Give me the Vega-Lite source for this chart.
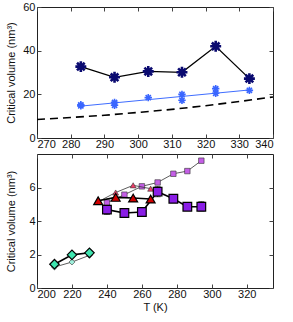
{
  "$schema": "https://vega.github.io/schema/vega-lite/v6.json",
  "padding": {"left": 5, "top": 0, "right": 10, "bottom": 0},
  "spacing": 3,
  "config": {
    "font": "Liberation Sans",
    "view": {"stroke": "#222", "strokeWidth": 1},
    "axis": {
      "grid": false, "domain": false, "tickColor": "#444", "tickSize": -4,
      "labelFontSize": 11, "labelColor": "#111", "titleFontSize": 11,
      "titleFontWeight": "normal", "titleColor": "#111", "labelPadding": 6
    }
  },
  "vconcat": [
    {
      "width": 236, "height": 131,
      "resolve": {"axis": {"x": "independent", "y": "independent"}},
      "layer": [
        {
          "data": {"values": [
            {"T": 270, "v": 8.5}, {"T": 280, "v": 9.4}, {"T": 290, "v": 10.4},
            {"T": 300, "v": 11.7}, {"T": 310, "v": 13.1}, {"T": 320, "v": 14.8},
            {"T": 330, "v": 16.7}, {"T": 340, "v": 18.8}
          ]},
          "mark": {"type": "line", "color": "black", "strokeDash": [8, 5], "strokeWidth": 1.6},
          "encoding": {
            "x": {"field": "T", "type": "quantitative", "scale": {"domain": [270, 340], "nice": false},
                  "axis": {"orient": "bottom", "values": [270, 280, 290, 300, 310, 320, 330, 340], "title": null, "labelPadding": 4}},
            "y": {"field": "v", "type": "quantitative", "scale": {"domain": [0, 60], "nice": false},
                  "axis": {"orient": "left", "values": [0, 20, 40, 60], "title": "Critical volume (nm³)", "titlePadding": 6}}
          }
        },
        {
          "data": {"values": [{"T": 283, "v": 14.6}, {"T": 333, "v": 22.0}]},
          "mark": {"type": "line", "color": "#3f6dff", "strokeWidth": 1},
          "encoding": {
            "x": {"field": "T", "type": "quantitative",
                  "axis": {"orient": "top", "labels": false, "title": null, "minExtent": 0, "maxExtent": 0, "values": [270, 280, 290, 300, 310, 320, 330, 340]}},
            "y": {"field": "v", "type": "quantitative",
                  "axis": {"orient": "right", "labels": false, "title": null, "minExtent": 0, "maxExtent": 0, "values": [0, 20, 40, 60]}}
          }
        },
        {
          "data": {"values": [
            {"T": 283, "v": 14.7}, {"T": 283, "v": 15.2}, {"T": 293, "v": 15.0}, {"T": 293, "v": 16.3},
            {"T": 303, "v": 18.5}, {"T": 313, "v": 17.3}, {"T": 313, "v": 20.0},
            {"T": 323, "v": 20.5}, {"T": 323, "v": 22.6}, {"T": 333, "v": 21.8}
          ]},
          "mark": {"type": "point", "shape": "M0,-1L0,1M-1,0L1,0M-0.7,-0.7L0.7,0.7M-0.7,0.7L0.7,-0.7",
                   "filled": false, "color": "#3a66ff", "strokeWidth": 1.6, "size": 55, "opacity": 1},
          "encoding": {
            "x": {"field": "T", "type": "quantitative", "axis": null},
            "y": {"field": "v", "type": "quantitative", "axis": null}
          }
        },
        {
          "data": {"values": [
            {"T": 283, "v": 32.7}, {"T": 293, "v": 27.8}, {"T": 303, "v": 30.5},
            {"T": 313, "v": 30.1}, {"T": 323, "v": 42.0}, {"T": 333, "v": 27.2}
          ]},
          "mark": {"type": "line", "color": "black", "strokeWidth": 1.3,
                   "point": {"shape": "M0,-1L0,1M-1,0L1,0M-0.7,-0.7L0.7,0.7M-0.7,0.7L0.7,-0.7",
                             "filled": false, "color": "#0a0a70", "strokeWidth": 2.6, "size": 120, "opacity": 1}},
          "encoding": {
            "x": {"field": "T", "type": "quantitative", "axis": null},
            "y": {"field": "v", "type": "quantitative", "axis": null}
          }
        },
        {
          "mark": {"type": "text", "text": "(a)", "fontSize": 11, "color": "#111"},
          "encoding": {
            "x": {"datum": 333.5, "type": "quantitative", "axis": null},
            "y": {"datum": 51.8, "type": "quantitative", "axis": null}
          }
        }
      ]
    },
    {
      "width": 236, "height": 134,
      "resolve": {"axis": {"x": "independent", "y": "independent"}},
      "layer": [
        {
          "data": {"values": [
            {"T": 240, "lo": 4.4, "hi": 5.0}, {"T": 269, "lo": 5.45, "hi": 6.05},
            {"T": 286, "lo": 4.7, "hi": 5.0}, {"T": 294, "lo": 4.6, "hi": 5.15},
            {"T": 250, "lo": 4.4, "hi": 4.6}
          ]},
          "mark": {"type": "errorbar", "ticks": {"size": 6, "color": "black"}, "rule": {"color": "black"}},
          "encoding": {
            "x": {"field": "T", "type": "quantitative", "scale": {"domain": [200, 335], "nice": false},
                  "axis": {"orient": "bottom", "values": [200, 220, 240, 260, 280, 300, 320], "title": "T (K)", "titlePadding": 2, "labelPadding": 4}},
            "y": {"field": "lo", "type": "quantitative", "scale": {"domain": [0, 8], "nice": false},
                  "axis": {"orient": "left", "values": [0, 2, 4, 6], "title": "Critical volume (nm³)", "titlePadding": 12}},
            "y2": {"field": "hi"}
          }
        },
        {
          "data": {"values": [
            {"T": 240, "v": 5.1}, {"T": 250, "v": 5.57}, {"T": 260, "v": 6.07}, {"T": 269, "v": 6.3},
            {"T": 278, "v": 6.82}, {"T": 286, "v": 6.98}, {"T": 294, "v": 7.6}
          ]},
          "mark": {"type": "line", "color": "#333", "strokeWidth": 0.8,
                   "point": {"shape": "square", "filled": true, "color": "#c45ee6", "stroke": "#333", "strokeWidth": 0.6, "size": 30, "opacity": 1}},
          "encoding": {
            "x": {"field": "T", "type": "quantitative",
                  "axis": {"orient": "top", "labels": false, "title": null, "minExtent": 0, "maxExtent": 0, "values": [200, 220, 240, 260, 280, 300, 320]}},
            "y": {"field": "v", "type": "quantitative",
                  "axis": {"orient": "right", "labels": false, "title": null, "minExtent": 0, "maxExtent": 0, "values": [0, 2, 4, 6]}}
          }
        },
        {
          "data": {"values": [
            {"T": 235, "v": 5.15}, {"T": 245, "v": 5.7}, {"T": 255, "v": 6.13}, {"T": 265, "v": 5.93}
          ]},
          "mark": {"type": "line", "color": "#333", "strokeWidth": 0.8,
                   "point": {"shape": "triangle-up", "filled": true, "color": "#ee3f6a", "stroke": "#333", "strokeWidth": 0.6, "size": 35, "opacity": 1}},
          "encoding": {
            "x": {"field": "T", "type": "quantitative", "axis": null},
            "y": {"field": "v", "type": "quantitative", "axis": null}
          }
        },
        {
          "data": {"values": [
            {"T": 240, "v": 4.68}, {"T": 250, "v": 4.48}, {"T": 260, "v": 4.54}, {"T": 269, "v": 5.75},
            {"T": 278, "v": 5.33}, {"T": 286, "v": 4.85}, {"T": 294, "v": 4.85}
          ]},
          "mark": {"type": "line", "color": "black", "strokeWidth": 1.6,
                   "point": {"shape": "square", "filled": true, "color": "#8a1ee6", "stroke": "black", "strokeWidth": 1.2, "size": 75, "opacity": 1}},
          "encoding": {
            "x": {"field": "T", "type": "quantitative", "axis": null},
            "y": {"field": "v", "type": "quantitative", "axis": null}
          }
        },
        {
          "data": {"values": [
            {"T": 235, "v": 5.21}, {"T": 245, "v": 5.41}, {"T": 255, "v": 5.37}, {"T": 265, "v": 5.31}
          ]},
          "mark": {"type": "line", "color": "black", "strokeWidth": 1.6,
                   "point": {"shape": "triangle-up", "filled": true, "color": "#d00000", "stroke": "black", "strokeWidth": 1.2, "size": 80, "opacity": 1}},
          "encoding": {
            "x": {"field": "T", "type": "quantitative", "axis": null},
            "y": {"field": "v", "type": "quantitative", "axis": null}
          }
        },
        {
          "data": {"values": [
            {"T": 210, "v": 1.25}, {"T": 220, "v": 1.55}, {"T": 230, "v": 1.95}
          ]},
          "mark": {"type": "line", "color": "#333", "strokeWidth": 0.8,
                   "point": {"shape": "diamond", "filled": true, "color": "#9ff0dc", "stroke": "#333", "strokeWidth": 0.6, "size": 35, "opacity": 1}},
          "encoding": {
            "x": {"field": "T", "type": "quantitative", "axis": null},
            "y": {"field": "v", "type": "quantitative", "axis": null}
          }
        },
        {
          "data": {"values": [
            {"T": 210, "v": 1.42}, {"T": 220, "v": 1.98}, {"T": 230, "v": 2.1}
          ]},
          "mark": {"type": "line", "color": "black", "strokeWidth": 1.6,
                   "point": {"shape": "diamond", "filled": true, "color": "#3ee6b0", "stroke": "black", "strokeWidth": 1.2, "size": 90, "opacity": 1}},
          "encoding": {
            "x": {"field": "T", "type": "quantitative", "axis": null},
            "y": {"field": "v", "type": "quantitative", "axis": null}
          }
        },
        {
          "mark": {"type": "text", "text": "(b)", "fontSize": 11, "color": "#111"},
          "encoding": {
            "x": {"datum": 321.5, "type": "quantitative", "axis": null},
            "y": {"datum": 6.87, "type": "quantitative", "axis": null}
          }
        }
      ]
    }
  ]
}
